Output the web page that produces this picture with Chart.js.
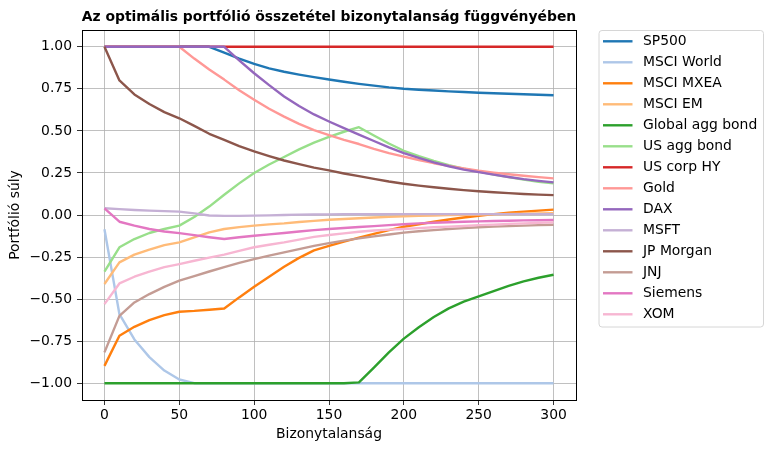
<!DOCTYPE html>
<html>
<head>
<meta charset="utf-8">
<script src="https://cdn.jsdelivr.net/npm/chart.js@4.4.1/dist/chart.umd.min.js"></script>
<style>
  html, body { margin: 0; padding: 0; background: #fff; }
  #wrap { width: 772px; height: 453px; }
</style>
</head>
<body>
<div id="wrap"><canvas id="c" width="772" height="453"></canvas></div>
<script>
const xs = [0,10,20,30,40,50,60,70,80,90,100,110,120,130,140,150,160,170,180,190,200,210,220,230,240,250,260,270,280,290,300];

const sp500 = [1,1,1,1,1,1,1,1,0.965,0.93,0.898,0.872,0.852,0.835,0.82,0.806,0.792,0.78,0.769,0.759,0.751,0.745,0.74,0.735,0.731,0.727,0.724,0.721,0.718,0.715,0.712];
const msciWorld = [-0.085,-0.59,-0.74,-0.845,-0.925,-0.978,-1,-1,-1,-1,-1,-1,-1,-1,-1,-1,-1,-1,-1,-1,-1,-1,-1,-1,-1,-1,-1,-1,-1,-1,-1];
const msciMxea = [-0.897,-0.718,-0.665,-0.625,-0.595,-0.575,-0.57,-0.563,-0.556,-0.49,-0.427,-0.367,-0.308,-0.255,-0.21,-0.183,-0.158,-0.135,-0.112,-0.09,-0.07,-0.055,-0.04,-0.027,-0.015,-0.005,0.005,0.013,0.02,0.026,0.032];
const msciEm = [-0.41,-0.282,-0.236,-0.206,-0.179,-0.163,-0.133,-0.103,-0.083,-0.072,-0.063,-0.056,-0.05,-0.042,-0.035,-0.028,-0.024,-0.019,-0.015,-0.011,-0.008,-0.005,-0.003,-0.001,0.001,0.002,0.004,0.006,0.007,0.009,0.01];
const globalAgg = [-1,-1,-1,-1,-1,-1,-1,-1,-1,-1,-1,-1,-1,-1,-1,-1,-1,-0.995,-0.907,-0.817,-0.735,-0.667,-0.607,-0.555,-0.515,-0.484,-0.452,-0.422,-0.395,-0.373,-0.355];
const usAgg = [-0.337,-0.192,-0.143,-0.107,-0.083,-0.063,-0.012,0.05,0.12,0.188,0.25,0.3,0.345,0.39,0.43,0.465,0.495,0.522,0.473,0.425,0.382,0.35,0.322,0.297,0.276,0.258,0.24,0.225,0.21,0.198,0.188];
const usCorpHy = [1,1,1,1,1,1,1,1,1,1,1,1,1,1,1,1,1,1,1,1,1,1,1,1,1,1,1,1,1,1,1];
const gold = [1,1,1,1,1,1,0.93,0.865,0.805,0.742,0.685,0.632,0.585,0.542,0.505,0.475,0.447,0.422,0.393,0.368,0.347,0.327,0.308,0.292,0.277,0.263,0.252,0.242,0.233,0.225,0.218];
const dax = [1,1,1,1,1,1,1,1,1,0.92,0.843,0.772,0.705,0.648,0.598,0.556,0.516,0.478,0.44,0.402,0.368,0.34,0.313,0.29,0.27,0.255,0.24,0.226,0.213,0.203,0.194];
const msft = [0.04,0.035,0.03,0.026,0.023,0.02,0.01,-0.003,-0.005,-0.005,-0.004,-0.002,0,0.002,0.003,0.004,0.005,0.005,0.005,0.005,0.005,0.005,0.005,0.005,0.005,0.005,0.005,0.005,0.005,0.005,0.005];
const jpMorgan = [1.0,0.80,0.717,0.66,0.612,0.575,0.53,0.483,0.447,0.41,0.378,0.35,0.324,0.302,0.282,0.265,0.247,0.231,0.215,0.199,0.186,0.175,0.165,0.156,0.148,0.141,0.135,0.13,0.125,0.121,0.118];
const jnj = [-0.817,-0.6,-0.52,-0.47,-0.427,-0.39,-0.363,-0.336,-0.31,-0.285,-0.262,-0.242,-0.222,-0.203,-0.184,-0.167,-0.152,-0.139,-0.127,-0.116,-0.105,-0.097,-0.09,-0.083,-0.078,-0.073,-0.069,-0.066,-0.063,-0.06,-0.058];
const siemens = [0.04,-0.04,-0.063,-0.083,-0.098,-0.108,-0.12,-0.132,-0.143,-0.132,-0.123,-0.115,-0.107,-0.098,-0.09,-0.083,-0.077,-0.071,-0.066,-0.06,-0.055,-0.05,-0.046,-0.043,-0.04,-0.038,-0.036,-0.034,-0.032,-0.031,-0.03];
const xom = [-0.53,-0.407,-0.367,-0.337,-0.31,-0.292,-0.272,-0.253,-0.236,-0.213,-0.192,-0.177,-0.163,-0.146,-0.13,-0.119,-0.109,-0.1,-0.092,-0.087,-0.083,-0.078,-0.073,-0.069,-0.065,-0.06,-0.057,-0.053,-0.05,-0.047,-0.044];

const seriesNames = ['SP500','MSCI World','MSCI MXEA','MSCI EM','Global agg bond','US agg bond','US corp HY','Gold','DAX','MSFT','JP Morgan','JNJ','Siemens','XOM'];
const seriesValues = [sp500, msciWorld, msciMxea, msciEm, globalAgg, usAgg, usCorpHy, gold, dax, msft, jpMorgan, jnj, siemens, xom];
const seriesColors = ['#1f77b4','#aec7e8','#ff7f0e','#ffbb78','#2ca02c','#98df8a','#d62728','#ff9896','#9467bd','#c5b0d5','#8c564b','#c49c94','#e377c2','#f7b6d2'];

const xTicks = [0,50,100,150,200,250,300];
const yTicks = [-1,-0.75,-0.5,-0.25,0,0.25,0.5,0.75,1];

const titleText = 'Az optimális portfólió összetétel bizonytalanság függvényében';
const xLabel = 'Bizonytalanság';
const yLabel = 'Portfólió súly';

const FONT = "'DejaVu Sans', sans-serif";
const FS = 13.9;
const LW = 2.4;

const datasets = seriesValues.map((vals, i) => ({
  label: seriesNames[i],
  data: xs.map((x, j) => ({ x: x, y: vals[j] })),
  borderColor: seriesColors[i],
  backgroundColor: seriesColors[i],
  borderWidth: LW,
  pointRadius: 0,
  tension: 0,
  fill: false,
  order: seriesNames.length - i,
  borderJoinStyle: 'round',
  borderCapStyle: 'butt'
}));

const decorPlugin = {
  id: 'decor',
  afterDraw(chart) {
    const ctx = chart.ctx;
    const a = chart.chartArea;
    ctx.save();
    // frame
    ctx.strokeStyle = '#000';
    ctx.lineWidth = 1;
    ctx.strokeRect(Math.round(a.left) + 0.5, Math.round(a.top) + 0.5, Math.round(a.right - a.left), Math.round(a.bottom - a.top));
    // title
    ctx.fillStyle = '#000';
    ctx.font = 'bold ' + FS + 'px ' + FONT;
    ctx.textAlign = 'center';
    ctx.textBaseline = 'alphabetic';
    ctx.fillText(titleText, (a.left + a.right) / 2, 21);
    // legend
    const lx = 599, ly = 30.5, lw = 164.5, lh = 296.5, r = 3;
    ctx.beginPath();
    ctx.moveTo(lx + r, ly);
    ctx.lineTo(lx + lw - r, ly);
    ctx.quadraticCurveTo(lx + lw, ly, lx + lw, ly + r);
    ctx.lineTo(lx + lw, ly + lh - r);
    ctx.quadraticCurveTo(lx + lw, ly + lh, lx + lw - r, ly + lh);
    ctx.lineTo(lx + r, ly + lh);
    ctx.quadraticCurveTo(lx, ly + lh, lx, ly + lh - r);
    ctx.lineTo(lx, ly + r);
    ctx.quadraticCurveTo(lx, ly, lx + r, ly);
    ctx.closePath();
    ctx.fillStyle = 'rgba(255,255,255,0.8)';
    ctx.fill();
    ctx.strokeStyle = '#d6d6d6';
    ctx.lineWidth = 1;
    ctx.stroke();
    ctx.font = FS + 'px ' + FONT;
    ctx.textAlign = 'left';
    ctx.textBaseline = 'middle';
    chart.data.datasets.forEach((ds, i) => {
      const y = 41.3 + 21.0 * i;
      ctx.strokeStyle = ds.borderColor;
      ctx.lineWidth = LW;
      ctx.beginPath();
      ctx.moveTo(603, y);
      ctx.lineTo(632.5, y);
      ctx.stroke();
      ctx.fillStyle = '#000';
      ctx.fillText(ds.label, 643, y + 0.5);
    });
    ctx.restore();
  }
};

const fmt = v => {
  const s = Math.abs(v).toFixed(2);
  return (v < 0 ? '\u2212' : '') + s;
};

new Chart(document.getElementById('c'), {
  type: 'line',
  data: { datasets: datasets },
  plugins: [decorPlugin],
  options: {
    responsive: false,
    animation: false,
    devicePixelRatio: 1,
    layout: { padding: { left: 0, top: 30, right: 196, bottom: 0 } },
    plugins: {
      legend: { display: false },
      title: { display: false },
      tooltip: { enabled: false }
    },
    scales: {
      x: {
        type: 'linear',
        min: -15,
        max: 315,
        afterBuildTicks: s => { s.ticks = xTicks.map(v => ({ value: v })); },
        afterFit: s => { s.height = 53; },
        grid: { color: '#b0b0b0', lineWidth: 0.8, tickColor: '#000', tickLength: 5, drawTicks: true },
        border: { display: true, color: '#000', width: 1 },
        ticks: { color: '#000', font: { family: FONT, size: FS }, padding: 2, maxRotation: 0, autoSkip: false,
                 callback: v => String(v) },
        title: { display: true, text: xLabel, color: '#000', font: { family: FONT, size: FS }, padding: { top: 0, bottom: 10 } }
      },
      y: {
        type: 'linear',
        min: -1.1,
        max: 1.1,
        afterBuildTicks: s => { s.ticks = yTicks.map(v => ({ value: v })); },
        afterFit: s => { s.width = 82; },
        grid: { color: '#b0b0b0', lineWidth: 0.8, tickColor: '#000', tickLength: 5, drawTicks: true },
        border: { display: true, color: '#000', width: 1 },
        ticks: { color: '#000', font: { family: FONT, size: FS }, padding: 5, autoSkip: false,
                 callback: v => fmt(v) },
        title: { display: true, text: yLabel, color: '#000', font: { family: FONT, size: FS }, padding: { top: 7, bottom: 0 } }
      }
    }
  }
});
</script>
</body>
</html>
